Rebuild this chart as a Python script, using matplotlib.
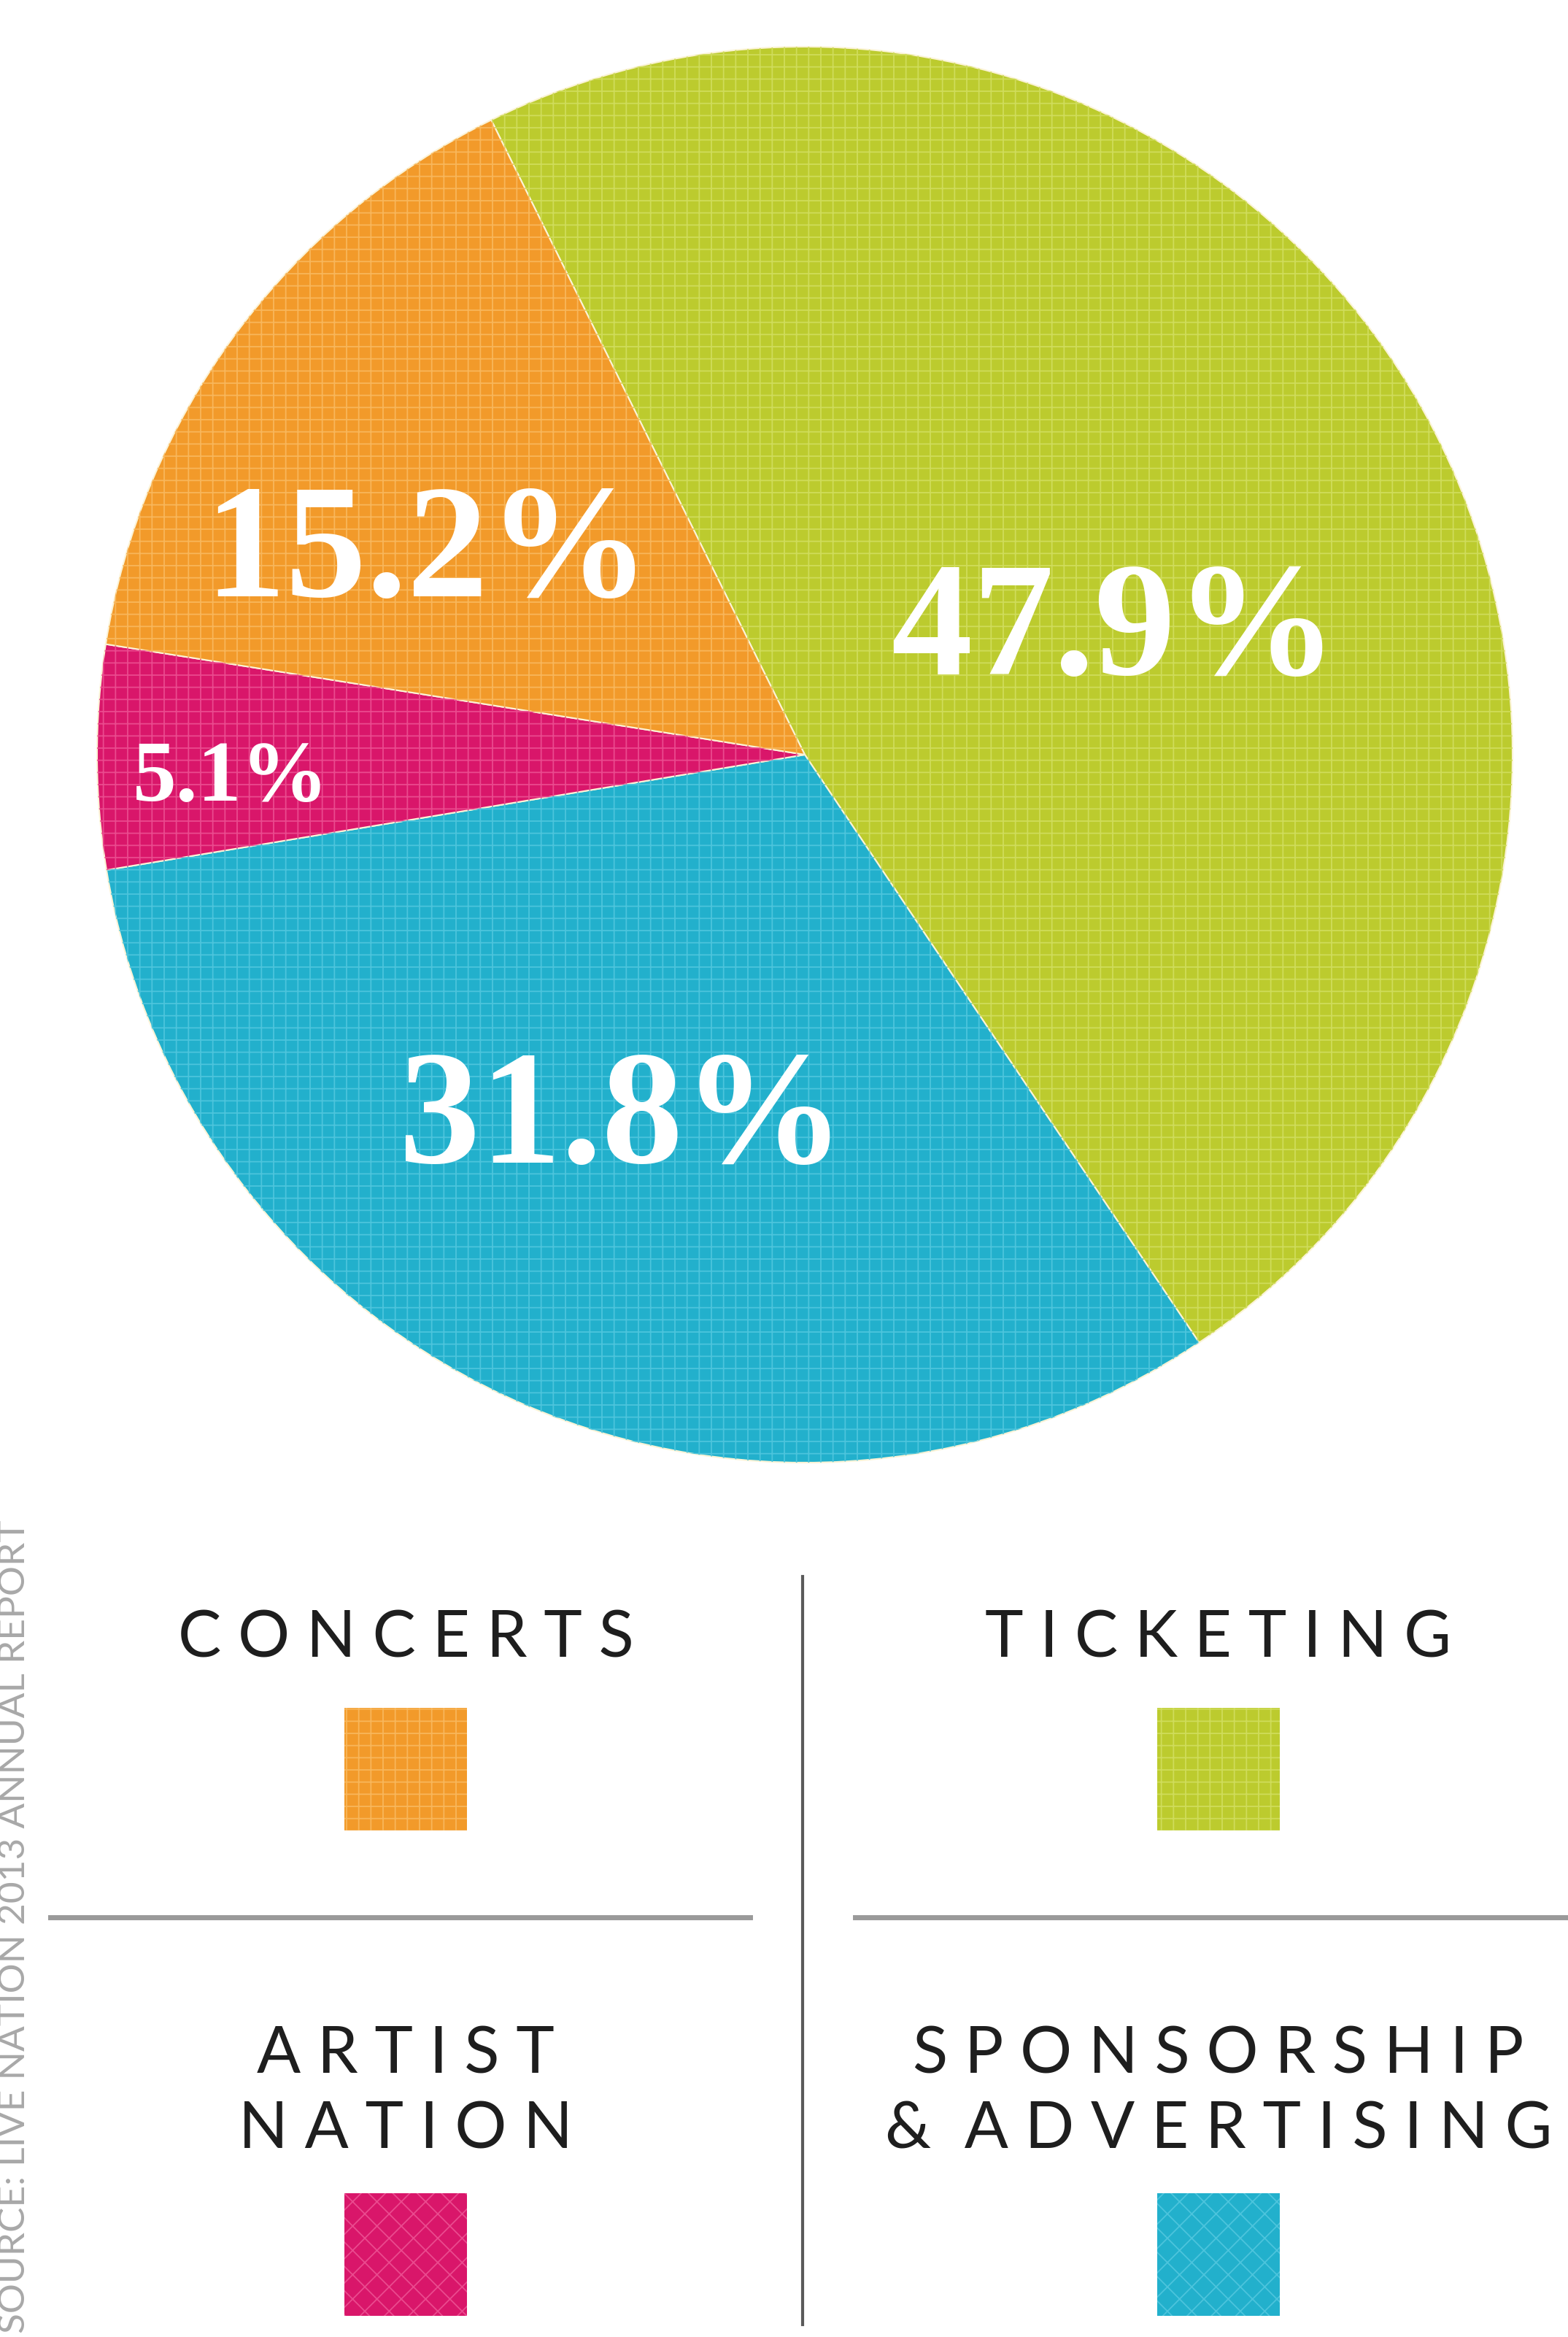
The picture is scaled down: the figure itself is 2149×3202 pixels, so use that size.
import matplotlib
matplotlib.use("Agg")
import matplotlib.pyplot as plt
from matplotlib.patches import Rectangle

# figure size in pixels (dpi 100)
W, H = 2149, 3202

# data: segment order as drawn clockwise from the top-left boundary
segments = ["Ticketing", "Sponsorship & Advertising", "Artist Nation", "Concerts"]
shares = [47.9, 31.8, 5.1, 15.2]
colors = ["#bccb2e", "#22b0cc", "#d9166a", "#f29a2a"]
grid_colors = ["#cfdc5a", "#4cc4dc", "#ea4a8e", "#f8b65a"]

# label anchors (pie units, baseline) for each share
label_xy = [(0.438, 0.113), (-0.258, -0.576), (-0.811, -0.065), (-0.533, 0.224)]
label_size = [160, 160, 86, 160]

# legend block: title lines per entry, colour index, hatch
legend_titles = [["C O N C E R T S"], ["T I C K E T I N G"],
                 ["A R T I S T", "N A T I O N"],
                 ["S P O N S O R S H I P", "&  A D V E R T I S I N G"]]
legend_color_idx = [3, 0, 2, 1]
legend_hatch = ["+", "+", "x", "x"]

source_note = "SOURCE: LIVE NATION 2013 ANNUAL REPORT"

plt.rcParams["hatch.linewidth"] = 1.3

fig = plt.figure(figsize=(W / 100, H / 100), dpi=100)
fig.patch.set_facecolor("white")

# pie axes: centre (1103, 1034) px, radius 970 px
cx, cy, r = 1103, 1034, 970
ax = fig.add_axes([(cx - r) / W, (H - cy - r) / H, 2 * r / W, 2 * r / H])
ax.pie(shares, colors=colors, startangle=116.3, counterclock=False, radius=1,
       wedgeprops=dict(edgecolor="#fbf3d6", linewidth=1.5))
# halftone-ish grid texture on top
overlay, _ = ax.pie(shares, colors=["none"] * 4, startangle=116.3,
                    counterclock=False, radius=1,
                    wedgeprops=dict(linewidth=0))
for w, gc in zip(overlay, grid_colors):
    w.set_hatch("+")
    w.set_edgecolor(gc)
    w.set_facecolor("none")
ax.set_xlim(-1, 1)
ax.set_ylim(-1, 1)
ax.axis("off")

for v, (x, y), fs in zip(shares, label_xy, label_size):
    ax.text(x, y, f"{v}%", ha="center", va="baseline", color="white",
            fontsize=fs, fontweight="bold", family="Liberation Serif")

# legend / annotation layer in pixel coordinates
lay = fig.add_axes([0, 0, 1, 1])
lay.set_xlim(0, W)
lay.set_ylim(H, 0)
lay.axis("off")
lay.patch.set_alpha(0)

cols_x = [556, 1670]
rows = [(2270, 2340), (2840, 3005)]  # (title baseline, square top)
sq = 168
for i, (lines, ci, hatch) in enumerate(zip(legend_titles, legend_color_idx, legend_hatch)):
    x = cols_x[i % 2]
    base, sq_top = rows[i // 2]
    for k, line in enumerate(lines):
        lay.text(x, base + k * 103, line, ha="center", va="baseline",
                 fontsize=64, color="#1e1e1e", family="Lato")
    lay.add_patch(Rectangle((x - sq / 2, sq_top), sq, sq, facecolor=colors[ci],
                            edgecolor=grid_colors[ci], hatch=hatch, linewidth=0))

# dividers
lay.plot([1100, 1100], [2160, 3185], color="#5a5a5a", linewidth=3)
lay.plot([69, 1028], [2627, 2627], color="#9a9a9a", linewidth=5)
lay.plot([1172, W], [2627, 2627], color="#9a9a9a", linewidth=5)

# source note, rotated along the left edge
lay.text(20, 2640, source_note, rotation=90, ha="center", va="center",
         fontsize=37, color="#a8a8a8", family="Lato")

fig.savefig("out.png", dpi=100, facecolor="white")
